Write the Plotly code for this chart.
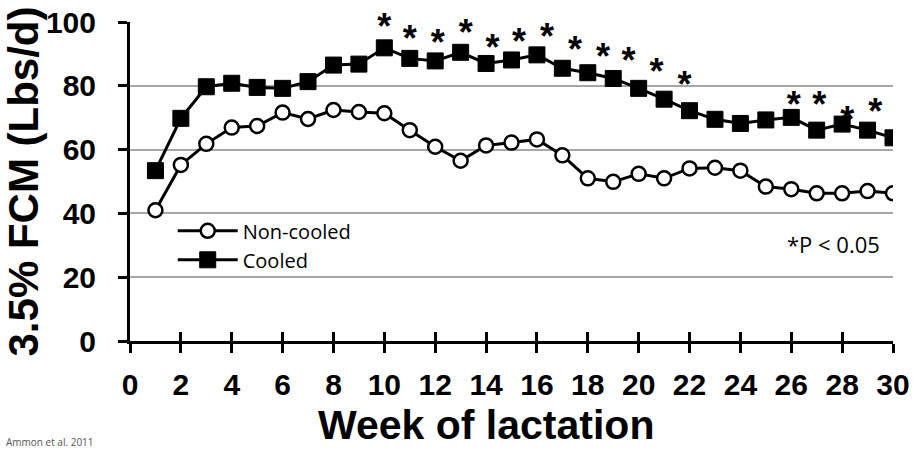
import plotly.graph_objects as go

weeks = list(range(1, 31))
cooled = [53.4, 69.8, 79.7, 80.8, 79.5, 79.2, 81.3, 86.5, 86.8, 91.9,
          88.6, 87.8, 90.5, 87.0, 88.1, 89.7, 85.5, 84.1, 82.3, 79.2,
          75.8, 72.2, 69.5, 68.2, 69.3, 70.1, 66.1, 68.0, 66.1, 63.7]
non_cooled = [41.0, 55.2, 61.8, 66.9, 67.4, 71.6, 69.6, 72.4, 71.8, 71.4,
              66.1, 60.9, 56.5, 61.3, 62.2, 63.2, 58.2, 51.0, 49.9, 52.4,
              51.0, 54.1, 54.3, 53.4, 48.4, 47.6, 46.3, 46.3, 47.0, 46.3]
# significance asterisks (as placed in the original figure)
star_x = [10.0, 11.0, 12.1, 13.2, 14.25, 15.3, 16.4, 17.5, 18.6, 19.6, 20.7, 21.8,
          26.1, 27.1, 28.2, 29.3]
star_y = [100.5, 96.8, 95.6, 98.7, 93.8, 95.9, 97.5, 93.3, 91.2, 89.7, 86.5, 82.3,
          76.0, 76.0, 71.4, 73.7]
x_ticks = list(range(0, 31, 2))
y_ticks = [0, 20, 40, 60, 80, 100]

STAR_SIZE = 36
STAR_OFFSET = 3.0  # glyph sits high in its text box; lower the box so the glyph centre matches

fig = go.Figure()
fig.add_trace(go.Scatter(
    x=weeks, y=non_cooled, name="Non-cooled", mode="lines+markers",
    line=dict(color="black", width=3),
    marker=dict(symbol="circle", size=14, color="white",
                line=dict(color="black", width=2.5)),
))
fig.add_trace(go.Scatter(
    x=weeks, y=cooled, name="Cooled", mode="lines+markers",
    line=dict(color="black", width=3),
    marker=dict(symbol="square", size=16, color="black",
                line=dict(color="black", width=1)),
))
fig.add_trace(go.Scatter(
    x=star_x, y=[v - STAR_OFFSET for v in star_y], mode="text", text=["*"] * len(star_x),
    textposition="middle center", cliponaxis=False, showlegend=False, hoverinfo="skip",
    textfont=dict(family="Liberation Sans", size=STAR_SIZE, color="black", weight="bold"),
))
# overlay axis for the inner half of crossing x ticks
fig.add_trace(go.Scatter(x=[0, 30], y=[0, 0], xaxis="x2", mode="lines",
                         line=dict(width=0), showlegend=False, hoverinfo="skip"))

fig.add_annotation(xref="paper", yref="paper", x=0.985, y=0.305, text="*P < 0.05",
                   showarrow=False, xanchor="right", yanchor="middle",
                   font=dict(family="Open Sans", size=22, color="black"))
fig.add_annotation(xref="paper", yref="paper", x=0.467, y=-0.185, text="<b>Week of lactation</b>",
                   showarrow=False, xanchor="center", yanchor="top",
                   font=dict(family="Liberation Sans", size=41, color="black"))
fig.add_annotation(xref="paper", yref="paper", x=-0.165, y=-0.345, text="Ammon et al. 2011",
                   showarrow=False, xanchor="left", yanchor="bottom",
                   font=dict(family="Open Sans", size=10, color="#555555"))

axis_common = dict(zeroline=False, showline=True, linecolor="black", linewidth=3,
                   ticks="outside", ticklen=9, tickwidth=3, tickcolor="black",
                   automargin=False,
                   tickfont=dict(family="Liberation Sans", size=30, color="black", weight="bold"))

fig.update_layout(
    width=917, height=451,
    margin=dict(l=130, r=24, t=22, b=110),
    paper_bgcolor="white", plot_bgcolor="white",
    font=dict(family="Liberation Sans", color="black"),
    showlegend=True,
    legend=dict(x=0.056, y=0.30, xanchor="left", yanchor="middle",
                bgcolor="rgba(0,0,0,0)", itemwidth=60, tracegroupgap=0,
                font=dict(family="Open Sans", size=20, color="black")),
    xaxis=dict(range=[0, 30], tickvals=x_ticks, ticktext=[str(t) for t in x_ticks],
               showgrid=False, ticklabelstandoff=6, **axis_common),
    xaxis2=dict(range=[0, 30], tickvals=x_ticks, overlaying="x", anchor="y", side="bottom",
                showgrid=False, zeroline=False, showline=False, ticks="inside",
                ticklen=9, tickwidth=3, tickcolor="black", showticklabels=False),
    yaxis=dict(range=[0, 100], tickvals=y_ticks, showgrid=True, gridcolor="#a6a6a6",
               gridwidth=1.5, ticklabelstandoff=16, **axis_common,
               title=dict(text="<b>3.5% FCM (Lbs/d)</b>", standoff=4,
                          font=dict(family="Liberation Sans", size=42, color="black"))),
)

fig.write_html("out.html", config={"displayModeBar": False})

# remove the browser's default page margin so the figure sits at the window's corner
with open("out.html", encoding="utf-8") as f:
    html = f.read()
html = html.replace("<head>", "<head><style>html,body{margin:0;padding:0;overflow:hidden}</style>", 1)
with open("out.html", "w", encoding="utf-8") as f:
    f.write(html)
